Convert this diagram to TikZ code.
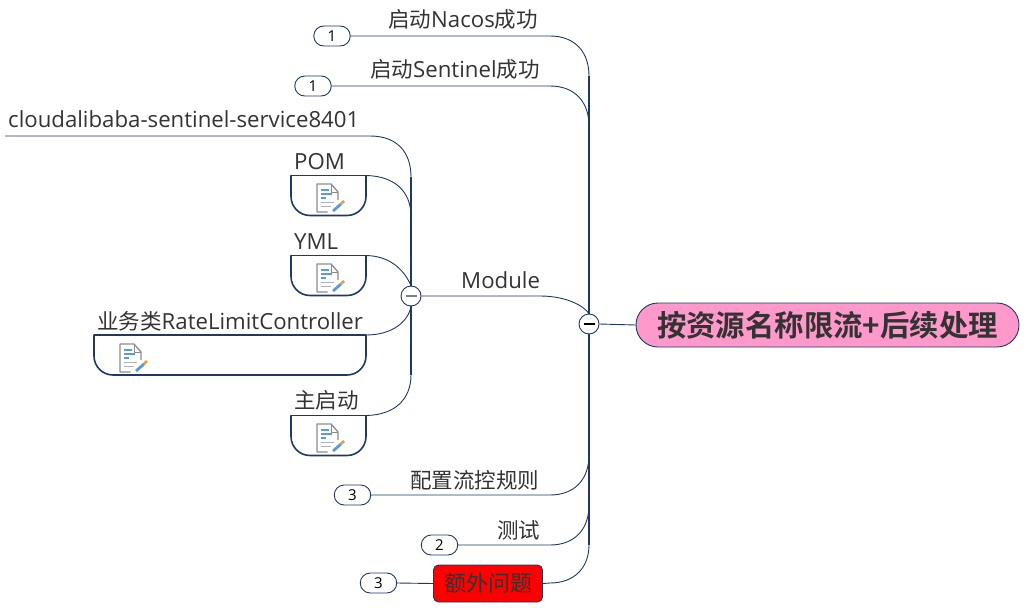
\documentclass[tikz,border=0pt]{standalone}
\usepackage{fontspec}
\setmainfont{Open Sans}
\newfontfamily\cjk{Noto Sans CJK SC}
\newfontfamily\cjkb{Noto Sans CJK SC Bold}
\usetikzlibrary{shapes.misc,backgrounds}
\definecolor{navy}{HTML}{1F3864}
\definecolor{ink}{HTML}{333333}
\definecolor{rootfill}{HTML}{FF99CC}
\definecolor{iconblue}{HTML}{5B9BD5}
\definecolor{icongrey}{HTML}{8C8C8C}
\definecolor{iconor}{HTML}{E0A040}
\tikzset{
  conn/.style={draw=navy,line width=0.9pt},
  lab/.style={inner sep=0pt,text=ink,font=\fontsize{22.2}{26}\selectfont,anchor=base west},
  badge/.style={rounded rectangle,draw=navy,line width=0.9pt,fill=white,minimum width=36.5pt,minimum height=20pt,inner sep=0pt,text=black,font=\fontsize{15}{18}\selectfont},
  note/.style={minimum height=40pt,inner sep=0pt,outer sep=0pt},
  noteline/.style={draw=navy,line width=1.6pt,rounded corners=19pt},
  tog/.style={circle,draw=navy,line width=0.9pt,fill=white,minimum size=20pt,inner sep=0pt},
  pics/docicon/.style={code={
    \draw[icongrey,line width=1.3pt,line join=round] (10.5,28) -- (0,28) -- (0,0) -- (14,0) -- (21,8) -- (21,16);
    \draw[icongrey,line width=0.9pt] (14,0) -- (14,8) -- (21,8);
    \draw[iconblue,line width=1.4pt] (3.5,6) -- (12,6) (3.5,10) -- (15,10);
    \draw[iconblue,line width=1.4pt] (3.5,14) -- (9,14);
    \draw[gray!60,line width=1pt] (3.5,18) -- (17,18) (3.5,22) -- (14,22);
    \draw[iconblue,line width=2.8pt] (16,27) -- (24,20);
    \draw[iconor,line width=2.8pt] (24,20) -- (27,17);
  }}
}
\newcommand{\togminus}[2]{\draw[#2,line width=1.5pt] ([xshift=-5.5pt]#1.center) -- ([xshift=5.5pt]#1.center);}
\newcommand{\notebox}[1]{\draw[noteline] (#1.north west) -- (#1.south west) -- (#1.south east) -- (#1.north east);\draw[navy,line width=1.6pt,line cap=round] (#1.north west) -- (#1.north east);}
\newcommand{\zh}[1]{{\cjk\fontsize{21.5}{26}\selectfont #1}}
\begin{document}
\begin{tikzpicture}[x=1pt,y=-1pt]
\useasboundingbox (0,0) rectangle (1024,607);
% nodes
\node[rounded rectangle,draw=navy,line width=0.9pt,fill=rootfill,minimum width=383pt,minimum height=44pt,inner sep=0pt,text=ink,font=\cjkb\fontsize{29.4}{32}\selectfont] (root) at (827.5,325) {按资源名称限流+后续处理};
\node[tog] (t1) at (589,324) {};
\node[tog] (t2) at (411,296) {};
\node[badge] (b1) at (332,36) {1};
\node[badge] (b2) at (313,86) {1};
\node[badge] (b3) at (352.5,495) {3};
\node[badge] (b4) at (439.5,545) {2};
\node[badge] (b5) at (378.5,583) {3};
\node[rectangle,rounded corners=5pt,draw=navy,line width=0.9pt,fill=red,minimum width=109pt,minimum height=37pt,inner sep=0pt,text=ink,font=\cjk\fontsize{22}{24}\selectfont] (extra) at (488,583.5) {额外问题};
\node[note,minimum width=75pt] (pom) at (328.5,195.5) {};
\node[note,minimum width=75pt] (yml) at (328.5,275.5) {};
\node[note,minimum width=272pt] (biz) at (230,355) {};
\node[note,minimum width=75pt] (mainb) at (328.5,435.5) {};
\coordinate (cl) at (5,136);
\coordinate (n1) at (589,76);
\coordinate (n2) at (589,126);
\coordinate (n3) at (589,455);
\coordinate (n4) at (589,505);
\coordinate (n5) at (589,545);
\coordinate (m1) at (411,177);
\coordinate (m2) at (411,216);
\coordinate (m5) at (411,375);
\begin{scope}[on background layer]
% trunks
\draw[conn,line width=1.1pt] (n1) -- (t1) -- (n5);
\draw[conn,line width=1.1pt] (m1) -- (t2) -- (m5);
% branches
\draw[conn] (root.west) -- (t1.east);
\draw[conn] (b1.east) -- (550,36) .. controls (575,36) and (589,52) .. (n1);
\draw[conn] (b2.east) -- (550,86) .. controls (575,86) and (589,102) .. (n2);
\draw[conn] (t2.east) -- (540,296) .. controls (565,296) and (583,305) .. (t1.north);
\draw[conn] (b3.east) -- (550,495) .. controls (575,495) and (589,479) .. (n3);
\draw[conn] (b4.east) -- (550,545) .. controls (575,545) and (589,529) .. (n4);
\draw[conn] (extra.east) -- (550,583) .. controls (575,583) and (589,567) .. (n5);
\draw[conn] (b5.east) -- (extra.west);
\draw[conn] (cl) -- (370,136) .. controls (397,136) and (411,152) .. (m1);
\draw[conn] (pom.north east) .. controls (395,176) and (411,192) .. (m2);
\draw[conn] (yml.north east) .. controls (392,256) and (405,272) .. (t2.north);
\draw[conn] (biz.north east) .. controls (392,335) and (408,322) .. (t2.south);
\draw[conn] (mainb.north east) .. controls (395,415) and (411,399) .. (m5);
\end{scope}
% boxes
\notebox{pom}\notebox{yml}\notebox{biz}\notebox{mainb}
\pic at (317,184) {docicon};
\pic at (317,264) {docicon};
\pic at (120,344) {docicon};
\pic at (317,424) {docicon};
\togminus{t1}{black}
\togminus{t2}{gray}
% labels
\node[lab] (l1) at (388,28) {\zh{启动}Nacos\zh{成功}};
\node[lab] (l2) at (370,78) {\zh{启动}Sentinel\zh{成功}};
\node[lab] (l3) at (8,128) {cloudalibaba-sentinel-service8401};
\node[lab] (l4) at (294,169) {POM};
\node[lab] (l5) at (294,249) {YML};
\node[lab] (l6) at (97,329) {\zh{业务类}RateLimitController};
\node[lab] (l7) at (294,408) {\zh{主启动}};
\node[lab] (l8) at (461,288) {Module};
\node[lab] (l9) at (410,488) {\zh{配置流控规则}};
\node[lab] (l10) at (497,538) {\zh{测试}};
\end{tikzpicture}
\end{document}
